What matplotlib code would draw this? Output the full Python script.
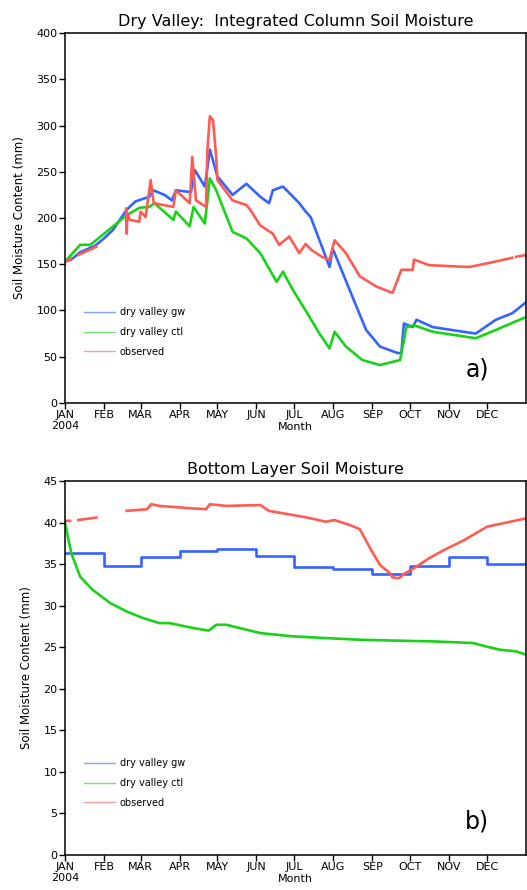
import numpy as np
import matplotlib
matplotlib.use("Agg")
import matplotlib.pyplot as plt
from matplotlib.lines import Line2D

nan = np.nan

month_days = [0, 31, 60, 91, 121, 152, 182, 213, 244, 274, 305, 335]
month_labels = ["JAN\n2004", "FEB", "MAR", "APR", "MAY", "JUN", "JUL", "AUG",
                "SEP", "OCT", "NOV", "DEC"]

# top panel: integrated column soil moisture (mm), (day of year, value)
gw_col_day = [0, 5, 12, 24, 31, 38, 49, 56, 67, 70, 79, 85, 88, 100, 103, 111, 115,
              121, 133, 144, 155, 162, 165, 173, 181, 186, 191, 195, 202, 210, 212.5,
              226, 239, 250, 264, 267, 269, 276, 279, 292, 326, 342, 355, 366]
gw_col_val = [153, 155, 163, 170, 178, 187, 209, 218, 223, 230, 225, 219, 230, 228, 252,
              234, 274, 245, 225, 237, 223, 216, 230, 234, 223, 216, 207, 201, 176, 147,
              167, 122, 79, 61, 54, 54, 86, 82, 90, 82, 75, 90, 97, 109]

ctl_col_day = [0, 1.5, 12, 20, 22, 49, 59, 67, 71, 86, 88, 99, 102, 111, 115, 120, 133,
               144, 155, 168, 173, 181, 191, 202, 210, 214, 223, 236, 250, 266, 271, 277,
               292, 326, 342, 366]
ctl_col_val = [153, 155, 171, 171, 173, 203, 211, 212, 216, 198, 207, 191, 212, 194, 243,
               230, 185, 178, 162, 131, 142, 122, 100, 75, 59, 77, 61, 46.5, 41, 46.5, 82,
               84, 77, 70, 79, 93]

obs_col_day = [0, 5, 5.5, 10.5, 25, 25.5, 48.5, 49, 49.5, 51.5, 59, 60, 64, 68, 70.5, 86,
               88, 99, 101, 104, 112, 113, 115, 117.5, 120, 121, 133, 144, 147, 155, 165,
               170, 178, 186, 191, 196, 204, 210, 214, 223, 234, 247, 260, 267, 276, 277,
               289, 321, 342, 355, 357, 358, 366]
obs_col_val = [153, 156, nan, 160, 169, nan, 210, 183, 205, 198, 196, 207, 201, 241, 216,
               212, 230, 216, 266, 219, 212, 273, 310, 306, 266, 241, 219, 214, 209, 192,
               183, 171, 180, 162, 172, 165, 158, 155, 176, 162, 137, 126, 119, 144, 144,
               155, 149, 147, 153, 157, nan, 158, 160]

# bottom panel: bottom layer soil moisture (mm)
gw_bot_val = [36.3, 34.8, 35.8, 36.6, 36.8, 36.0, 34.7, 34.4, 33.8, 34.8, 35.9, 35.0]

ctl_bot_day = [0, 5, 12, 22, 36, 49, 62, 75, 83, 102, 114, 120, 128, 155, 181, 207, 234,
               260, 292, 324, 334, 345, 358, 366]
ctl_bot_val = [40.0, 36.3, 33.5, 31.9, 30.3, 29.3, 28.5, 27.9, 27.9, 27.3, 27.0, 27.7,
               27.7, 26.7, 26.3, 26.1, 25.9, 25.8, 25.7, 25.5, 25.1, 24.7, 24.5, 24.1]

obs_bot_day = [0, 4, 4.5, 10.5, 25, 25.5, 49, 65, 68.5, 75, 101, 112, 115, 128, 155, 162,
               181, 192, 207, 214, 226, 234, 243, 250, 258, 260, 265, 269, 277, 289, 301,
               317, 335, 366]
obs_bot_val = [40.2, 40.2, nan, 40.3, 40.6, nan, 41.4, 41.6, 42.2, 42.0, 41.7, 41.6, 42.2,
               42.0, 42.1, 41.4, 40.9, 40.6, 40.1, 40.3, 39.7, 39.2, 36.7, 34.9, 33.9, 33.4,
               33.3, 33.8, 34.5, 35.7, 36.7, 37.9, 39.5, 40.5]

BLUE = "#3563ff"
GREEN = "#19d219"
RED = "#ff5b52"
series_names = ["dry valley gw", "dry valley ctl", "observed"]

plt.rcParams['font.family'] = ['DejaVu Sans']

fig = plt.figure(figsize=(5.27, 8.9), dpi=100)
ax1 = fig.add_axes([0.1233, 0.5472, 0.8750, 0.4157])
ax2 = fig.add_axes([0.1233, 0.0393, 0.8750, 0.4203])


def style_axis(ax, ymax, ystep, title, tag):
    ax.set_xlim(0, 366)
    ax.set_ylim(0, ymax)
    ax.set_xticks(month_days)
    ax.set_xticklabels(month_labels, fontsize=8, linespacing=1.1)
    ax.set_yticks(np.arange(0, ymax + 1, ystep))
    ax.tick_params(axis='both', direction='out', length=4, width=1, pad=1.5,
                   labelsize=8)
    ax.tick_params(axis='x', pad=1)
    for sp in ax.spines.values():
        sp.set_linewidth(1.1)
    ax.set_title(title, fontsize=11.5, pad=5)
    ax.set_xlabel("Month", fontsize=8, labelpad=-6)
    ax.set_ylabel("Soil Moisture Content (mm)", fontsize=8.5, labelpad=7)
    ax.text(0.894, 0.09, tag, transform=ax.transAxes, fontsize=17,
            ha='center', va='center')
    handles = [Line2D([], [], color=c, lw=1, alpha=0.6) for c in (BLUE, GREEN, RED)]
    ax.legend(handles, series_names, loc='upper left', bbox_to_anchor=(0.022, 0.282),
              frameon=False, fontsize=7, handlelength=3.2, handletextpad=0.5,
              labelspacing=1.0)


ax1.plot(gw_col_day, gw_col_val, color=BLUE, lw=1.9)
ax1.plot(ctl_col_day, ctl_col_val, color=GREEN, lw=1.9)
ax1.plot(obs_col_day, obs_col_val, color=RED, lw=1.9)
style_axis(ax1, 400, 50, "Dry Valley:  Integrated Column Soil Moisture", "a)")

ax2.plot(month_days + [366], gw_bot_val + [gw_bot_val[-1]], color=BLUE, lw=1.9,
         drawstyle='steps-post')
ax2.plot(ctl_bot_day, ctl_bot_val, color=GREEN, lw=1.9)
ax2.plot(obs_bot_day, obs_bot_val, color=RED, lw=1.9)
style_axis(ax2, 45, 5, "Bottom Layer Soil Moisture", "b)")

fig.savefig("out.png", dpi=100)
plt.close(fig)
